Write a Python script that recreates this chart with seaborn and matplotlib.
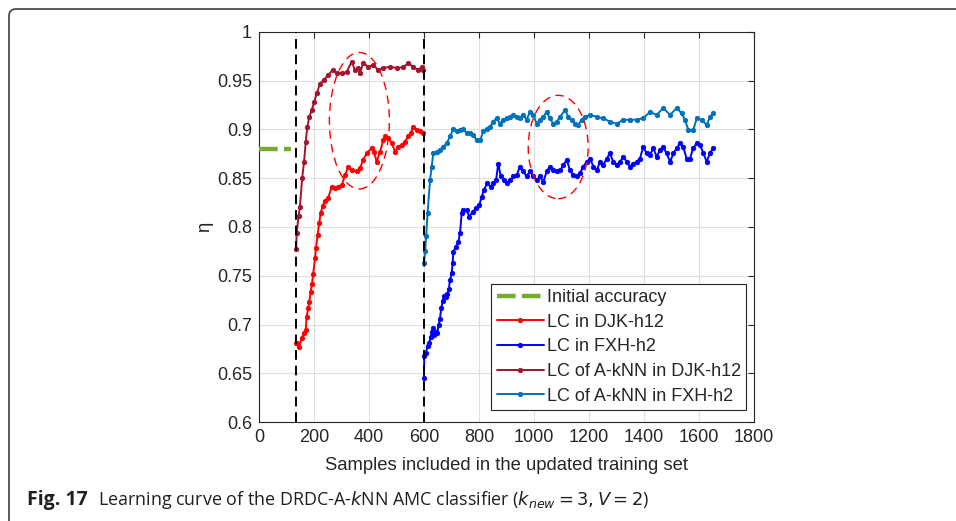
import numpy as np
import pandas as pd
import matplotlib
matplotlib.use("Agg")
import matplotlib.pyplot as plt
import seaborn as sns
from matplotlib.patches import Ellipse, PathPatch
from matplotlib.path import Path

# ---- learning-curve data -------------------------------------------------
init_acc_x = [0, 118]
init_acc_y = [0.88, 0.88]

boundaries = [135, 600]

djk_lc_x = [135, 139, 147, 155, 164, 170, 173, 179, 183, 188, 193, 197, 204, 207,
            213, 219, 224, 232, 240, 252, 264, 276, 288, 301, 313, 325, 337, 355,
            367, 379, 392, 410, 418, 428, 440, 452, 458, 470, 483, 495, 507, 519,
            531, 543, 552, 561, 573, 585, 597]
djk_lc_y = [0.681, 0.681, 0.677, 0.686, 0.691, 0.694, 0.708, 0.7166, 0.7234, 0.7336,
            0.742, 0.752, 0.768, 0.778, 0.792, 0.804, 0.814, 0.822, 0.827, 0.830,
            0.841, 0.840, 0.841, 0.843, 0.853, 0.862, 0.858, 0.857, 0.860, 0.869,
            0.8756, 0.881, 0.877, 0.867, 0.877, 0.889, 0.893, 0.891, 0.886, 0.877,
            0.882, 0.884, 0.8875, 0.893, 0.896, 0.903, 0.8995, 0.898, 0.896]

fxh_lc_x = [600, 601, 607, 613, 619, 624, 629, 634, 637, 644, 648, 653, 658, 663,
            668, 673, 679, 685, 690, 695, 701, 704, 707, 716, 725, 731, 737, 743,
            755, 765, 777, 789, 801, 810, 818, 830, 843, 852, 862, 870, 879, 891,
            901, 913, 925, 937, 949, 961, 973, 985, 997, 1010, 1022, 1034, 1046,
            1058, 1070, 1082, 1095, 1107, 1119, 1131, 1143, 1155, 1167, 1179, 1192,
            1204, 1216, 1228, 1240, 1252, 1264, 1276, 1288, 1301, 1313, 1325, 1337,
            1349, 1361, 1373, 1385, 1397, 1410, 1422, 1434, 1446, 1458, 1470, 1482,
            1495, 1507, 1519, 1531, 1543, 1555, 1567, 1579, 1592, 1604, 1616, 1628,
            1640, 1652]
fxh_lc_y = [0.6455, 0.668, 0.671, 0.678, 0.681, 0.687, 0.6926, 0.696, 0.689, 0.6926,
            0.691, 0.6995, 0.706, 0.717, 0.724, 0.7295, 0.7285, 0.731, 0.736, 0.746,
            0.7525, 0.763, 0.7747, 0.780, 0.785, 0.7935, 0.814, 0.8174, 0.8174,
            0.8106, 0.8157, 0.819, 0.8226, 0.831, 0.838, 0.845, 0.841, 0.845, 0.848,
            0.865, 0.852, 0.848, 0.845, 0.848, 0.852, 0.853, 0.862, 0.857, 0.852,
            0.857, 0.852, 0.848, 0.852, 0.846, 0.857, 0.862, 0.858, 0.857, 0.858,
            0.8635, 0.869, 0.858, 0.853, 0.852, 0.855, 0.862, 0.867, 0.870, 0.862,
            0.858, 0.867, 0.8635, 0.870, 0.8756, 0.867, 0.8635, 0.867, 0.872, 0.867,
            0.862, 0.865, 0.867, 0.870, 0.882, 0.8756, 0.874, 0.881, 0.872, 0.879,
            0.882, 0.8756, 0.867, 0.8756, 0.881, 0.886, 0.882, 0.870, 0.870, 0.881,
            0.886, 0.884, 0.8756, 0.867, 0.8756, 0.881]

djk_aknn_x = [135, 137, 144, 149, 157, 164, 170, 176, 183, 192, 201, 210, 222, 236,
              252, 268, 283, 301, 319, 337, 349, 361, 367, 379, 397, 416, 434, 452,
              476, 501, 525, 543, 561, 579, 592, 597]
djk_aknn_y = [0.777, 0.7935, 0.8116, 0.821, 0.850, 0.867, 0.8875, 0.903, 0.913, 0.920,
              0.9285, 0.937, 0.947, 0.951, 0.956, 0.961, 0.9576, 0.9576, 0.959, 0.9696,
              0.961, 0.9628, 0.9576, 0.968, 0.9644, 0.966, 0.961, 0.963, 0.9644, 0.963,
              0.964, 0.968, 0.964, 0.961, 0.964, 0.961]

fxh_aknn_x = [600, 604, 608, 613, 622, 628, 634, 646, 658, 670, 683, 695, 707, 719,
              731, 743, 755, 767, 779, 792, 804, 816, 828, 840, 852, 864, 876, 888,
              901, 913, 925, 937, 949, 961, 973, 985, 997, 1010, 1022, 1034, 1046,
              1058, 1070, 1082, 1095, 1113, 1125, 1137, 1149, 1161, 1173, 1185, 1204,
              1228, 1252, 1276, 1301, 1325, 1349, 1373, 1397, 1422, 1446, 1470, 1495,
              1519, 1537, 1549, 1561, 1579, 1592, 1610, 1628, 1640, 1652]
fxh_aknn_y = [0.763, 0.775, 0.791, 0.814, 0.848, 0.862, 0.876, 0.877, 0.879, 0.882,
              0.886, 0.893, 0.901, 0.898, 0.8995, 0.901, 0.896, 0.896, 0.894, 0.889,
              0.889, 0.898, 0.901, 0.903, 0.908, 0.9115, 0.906, 0.910, 0.9115, 0.913,
              0.915, 0.913, 0.9115, 0.915, 0.910, 0.918, 0.915, 0.906, 0.910, 0.913,
              0.918, 0.9115, 0.906, 0.908, 0.913, 0.920, 0.913, 0.910, 0.906, 0.9046,
              0.910, 0.913, 0.915, 0.913, 0.9115, 0.908, 0.906, 0.910, 0.910, 0.910,
              0.9115, 0.918, 0.915, 0.922, 0.915, 0.922, 0.9166, 0.910, 0.8995, 0.8995,
              0.9115, 0.910, 0.9046, 0.913, 0.9166]

series = [
    ("LC in DJK-h12", djk_lc_x, djk_lc_y, "#FF0000"),
    ("LC in FXH-h2", fxh_lc_x, fxh_lc_y, "#0000FF"),
    ("LC of A-kNN in DJK-h12", djk_aknn_x, djk_aknn_y, "#A2142F"),
    ("LC of A-kNN in FXH-h2", fxh_aknn_x, fxh_aknn_y, "#0072BD"),
]

# highlighted regions (centre x, centre y, width, height)
highlights = [(365, 0.909, 218, 0.140), (1088, 0.882, 218, 0.106)]

# ---- styling ------------------------------------------------------------
sns.set_theme(style="whitegrid")
plt.rcParams["font.family"] = ["Liberation Sans", "DejaVu Sans"]
plt.rcParams["mathtext.fontset"] = "dejavusans"

fig = plt.figure(figsize=(9.56, 5.21), dpi=100)
ax = fig.add_axes([0.2709, 0.19, 0.5178, 0.7486])
ax.set_facecolor("white")

ax.plot(init_acc_x, init_acc_y, color="#77AC30", lw=3.2,
        dashes=(4.2, 1.4), solid_capstyle="butt", label="Initial accuracy",
        zorder=3)

for name, xs, ys, col in series:
    df = pd.DataFrame({"x": xs, "y": ys})
    sns.lineplot(data=df, x="x", y="y", ax=ax, color=col, lw=1.4,
                 marker="o", markersize=3.2, markeredgewidth=0.6,
                 markeredgecolor=col, estimator=None, sort=False,
                 label=name, zorder=4)

for b in boundaries:
    ax.axvline(b, color="black", lw=1.4, dashes=(5, 3), zorder=5)

for cx, cy, w, h in highlights:
    ax.add_patch(Ellipse((cx, cy), w, h, fill=False, edgecolor="#FF0000",
                         lw=1.0, linestyle=(0, (6, 4)), zorder=6))

ax.set_xlim(0, 1800)
ax.set_ylim(0.6, 1.0)
ax.set_xticks(np.arange(0, 1801, 200))
ax.set_yticks(np.arange(0.6, 1.0001, 0.05))
ax.set_yticklabels(["0.6", "0.65", "0.7", "0.75", "0.8", "0.85", "0.9", "0.95", "1"])
ax.grid(True, color="#DFDFDF", lw=0.8)
ax.tick_params(direction="in", length=4, width=0.8, colors="#262626",
               labelsize=13, top=True, right=True, pad=5)
for s in ax.spines.values():
    s.set_color("#262626")
    s.set_linewidth(0.8)

ax.set_xlabel("Samples included in the updated training set", fontsize=13.3,
              color="#262626", labelpad=8)
ax.set_ylabel("η", fontsize=13.3, color="#262626", labelpad=3)

leg = ax.legend(loc="lower right", bbox_to_anchor=(0.984, 0.031),
                borderaxespad=0, fontsize=13, frameon=True, fancybox=False,
                handlelength=2.6, handletextpad=0.15, labelspacing=0.42,
                borderpad=0.3)
leg.get_frame().set_edgecolor("#262626")
leg.get_frame().set_linewidth(0.8)
leg.get_frame().set_alpha(1)

# caption: bold figure number followed by the description
fig.canvas.draw()
renderer = fig.canvas.get_renderer()
head = fig.text(0.028, 0.03, "Fig. 17", fontsize=14, fontweight="bold",
                family="Open Sans", color="#231F20", va="baseline")
bb = head.get_window_extent(renderer)
fig.text(bb.x1 / fig.bbox.width + 0.011, 0.03,
         "Learning curve of the DRDC-A-$\\it{k}$NN AMC classifier "
         "($k_{new}=3, V=2$)",
         fontsize=12.9, family="Open Sans", color="#231F20", va="baseline")

# outer frame with rounded top-left corner
W, H = 956, 521
x0, ytop, r = 9, H - 9, 7
verts = [(x0 / W, 0), (x0 / W, (ytop - r) / H), (x0 / W, ytop / H),
         ((x0 + r) / W, ytop / H), (1, ytop / H)]
codes = [Path.MOVETO, Path.LINETO, Path.CURVE3, Path.CURVE3, Path.LINETO]
fig.add_artist(PathPatch(Path(verts, codes), fill=False, edgecolor="#4D4D4D",
                         lw=1.3, transform=fig.transFigure))

fig.savefig("out.png", dpi=100)
